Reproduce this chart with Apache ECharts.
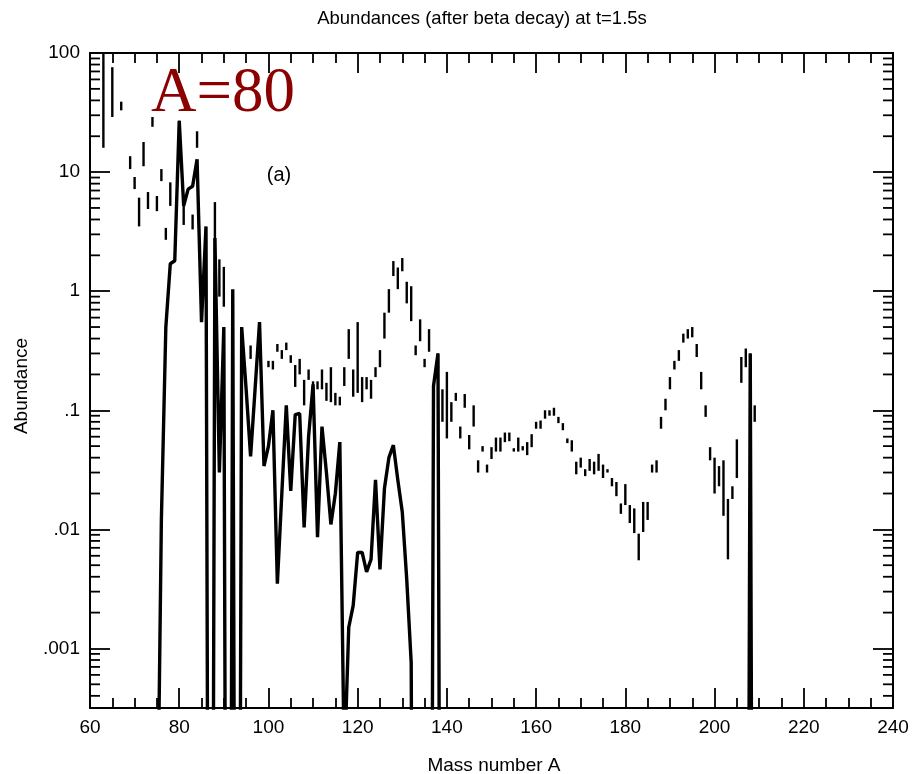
<!DOCTYPE html>
<html>
<head>
<meta charset="utf-8">
<script src="https://cdn.jsdelivr.net/npm/echarts@6/dist/echarts.min.js"></script>
<style>
html,body{margin:0;padding:0;background:#fff;}
#chart{width:912px;height:774px;}
</style>
</head>
<body>
<div id="chart"></div>
<script>
// ---------- DATA ----------
// Observed abundances: mass number, lower and upper end of each vertical bar
const obsA = [63, 65, 67, 69, 70, 71, 72, 73, 74, 75, 76, 77, 78, 80, 81, 83, 84, 88, 89, 90,
  96, 98, 100, 101, 102, 103, 104, 105, 106, 107, 108, 109, 110, 111, 112, 113, 114, 115, 116, 117,
  118, 119, 120, 121, 122, 123, 124, 125, 126, 127, 128, 129, 130, 131, 132, 133, 134, 135, 136, 138,
  139, 140, 141, 142, 143, 144, 145, 146, 147, 148, 149, 150, 151, 152, 153, 154, 155, 156, 157, 158,
  159, 160, 161, 162, 163, 164, 165, 166, 167, 168, 169, 170, 171, 172, 173, 174, 175, 176, 177, 178,
  179, 180, 181, 182, 183, 184, 185, 186, 187, 188, 189, 190, 191, 192, 193, 194, 195, 196, 197, 198,
  199, 200, 201, 202, 203, 204, 205, 206, 207, 208, 209];
const obsLow = [16, 29, 33, 10.6, 7.2, 3.5, 11.2, 4.9, 24, 4.7, 8.4, 2.7, 5.2, 20, 3.6, 3.3, 16, 2.1, 0.9, 0.74,
  0.27, 0.32, 0.23, 0.22, 0.31, 0.27, 0.32, 0.25, 0.157, 0.2, 0.11, 0.18, 0.145, 0.15, 0.15, 0.12, 0.117, 0.11, 0.11, 0.16,
  0.27, 0.13, 0.14, 0.117, 0.15, 0.125, 0.19, 0.23, 0.4, 0.66, 1.34, 1.04, 1.47, 0.79, 0.56, 0.29, 0.38, 0.23, 0.31, 0.22,
  0.08, 0.058, 0.08, 0.12, 0.058, 0.105, 0.047, 0.073, 0.03, 0.045, 0.03, 0.039, 0.045, 0.045, 0.054, 0.055, 0.045, 0.045, 0.046, 0.042,
  0.049, 0.07, 0.07, 0.085, 0.09, 0.09, 0.078, 0.068, 0.053, 0.045, 0.029, 0.033, 0.028, 0.031, 0.029, 0.031, 0.027, 0.03, 0.023, 0.019,
  0.0135, 0.016, 0.0113, 0.0093, 0.0055, 0.0095, 0.012, 0.03, 0.03, 0.07, 0.1, 0.15, 0.22, 0.26, 0.37, 0.4, 0.41, 0.28, 0.15, 0.088,
  0.038, 0.02, 0.023, 0.013, 0.0056, 0.018, 0.027, 0.17, 0.23, 0.25, 0.08];
const obsHigh = [120, 76, 39, 13.6, 9.1, 6.1, 17.9, 6.8, 29, 6.3, 10.6, 3.4, 8.2, 27, 5.6, 4.4, 22, 5.6, 1.85, 1.6,
  0.35, 0.55, 0.26, 0.26, 0.36, 0.32, 0.37, 0.29, 0.24, 0.27, 0.18, 0.22, 0.175, 0.175, 0.22, 0.17, 0.23, 0.14, 0.13, 0.23,
  0.48, 0.22, 0.55, 0.19, 0.19, 0.18, 0.23, 0.32, 0.66, 1.04, 1.79, 1.58, 1.9, 1.2, 1.1, 0.35, 0.58, 0.27, 0.48, 0.3,
  0.15, 0.21, 0.117, 0.14, 0.073, 0.137, 0.062, 0.11, 0.038, 0.05, 0.035, 0.049, 0.059, 0.059, 0.065, 0.065, 0.048, 0.059, 0.05, 0.054,
  0.063, 0.08, 0.082, 0.1, 0.1, 0.105, 0.088, 0.078, 0.058, 0.056, 0.037, 0.04, 0.032, 0.039, 0.037, 0.043, 0.035, 0.032, 0.027, 0.025,
  0.0165, 0.024, 0.016, 0.015, 0.0092, 0.017, 0.017, 0.035, 0.038, 0.088, 0.125, 0.19, 0.26, 0.32, 0.44, 0.48, 0.5, 0.36, 0.21, 0.11,
  0.049, 0.04, 0.034, 0.038, 0.018, 0.023, 0.057, 0.28, 0.33, 0.3, 0.11];

// Calculated abundances (thick curve); 0 = below the plotted range
const calcA = [75, 76, 77, 78, 79, 80, 81, 82, 83, 84, 85, 86, 87, 88, 89, 90, 91, 92, 93, 94,
  95, 96, 97, 98, 99, 100, 101, 102, 103, 104, 105, 106, 107, 108, 109, 110, 111, 112, 113, 114,
  115, 116, 117, 118, 119, 120, 121, 122, 123, 124, 125, 126, 127, 128, 129, 130, 131, 132, 133, 134,
  135, 136, 137, 138, 139, 207, 208, 209];
const calcV = [0.00001, 0.012, 0.5, 1.7, 1.8, 27, 5.2, 7.2, 7.6, 12.8, 0.55, 3.5, 0, 2.8, 0.03, 0.5, 0, 1.04, 0, 0.5,
  0.15, 0.041, 0.15, 0.55, 0.034, 0.05, 0.1, 0.0035, 0.02, 0.11, 0.021, 0.092, 0.094, 0.0104, 0.06, 0.165, 0.0086, 0.073, 0.03, 0.011,
  0.02, 0.054, 0.0001, 0.0015, 0.0023, 0.0064, 0.0064, 0.0044, 0.0056, 0.026, 0.0046, 0.022, 0.04, 0.051, 0.026, 0.014, 0.0038, 0.00076, 0, 0,
  0, 0, 0.16, 0.3, 0, 0, 0.3, 0];

// Axis tick labels
const yTickLabels = {'2': '100', '1': '10', '0': '1', '-1': '.1', '-2': '.01', '-3': '.001'};

// ---------- CHART ----------
const X_MIN = 60, X_MAX = 240;
const Y_MIN = Math.pow(10, -3.5), Y_MAX = 100;
const FLOOR = 1e-12; // stands in for zero on the log axis (falls far below the frame)

const minorVals = [];
for (let k = -4; k <= 1; k++) {
  for (let m = 2; m <= 9; m++) {
    const v = m * Math.pow(10, k);
    if (v > Y_MIN && v < Y_MAX) minorVals.push([X_MIN, v]);
  }
}

const font = 'Liberation Sans';
const chart = echarts.init(document.getElementById('chart'), null, {renderer: 'canvas'});

function xAxisCfg(pos, showLabel) {
  return {
    type: 'value', position: pos, min: X_MIN, max: X_MAX, interval: 20,
    axisLine: {show: true, onZero: false, lineStyle: {color: '#000', width: 2}},
    axisTick: {show: true, inside: true, length: 20, lineStyle: {color: '#000', width: 1.8}},
    minorTick: {show: true, splitNumber: 4, length: 10, lineStyle: {color: '#000', width: 1.8}},
    splitLine: {show: false}, minorSplitLine: {show: false},
    axisLabel: {show: showLabel, color: '#000', fontSize: 19, fontFamily: font, margin: 10}
  };
}
function yAxisCfg(pos, showLabel) {
  return {
    type: 'log', logBase: 10, position: pos, min: Y_MIN, max: Y_MAX,
    axisLine: {show: true, onZero: false, lineStyle: {color: '#000', width: 2}},
    axisTick: {show: true, inside: true, length: 20, lineStyle: {color: '#000', width: 1.8}},
    minorTick: {show: false},
    splitLine: {show: false},
    axisLabel: {
      show: showLabel, color: '#000', fontSize: 19, fontFamily: font, margin: 10,
      showMinLabel: true, showMaxLabel: true,
      formatter: function (v) {
        const e = Math.log10(v);
        const r = Math.round(e);
        if (Math.abs(e - r) > 1e-6) return '';
        return yTickLabels[String(r)] || '';
      }
    }
  };
}

const option = {
  animation: false,
  backgroundColor: '#fff',
  textStyle: {fontFamily: font},
  grid: {left: 90, right: 19, top: 53, bottom: 66},
  xAxis: [xAxisCfg('bottom', true), xAxisCfg('top', false)],
  yAxis: [yAxisCfg('left', true), yAxisCfg('right', false)],
  graphic: [
    {type: 'text', x: 482, y: 19, silent: true,
      style: {text: 'Abundances (after beta decay) at t=1.5s', fontSize: 18.5, fontFamily: font, fill: '#000', align: 'center', verticalAlign: 'middle'}},
    {type: 'text', x: 494, y: 766, silent: true,
      style: {text: 'Mass number A', fontSize: 19, fontFamily: font, fill: '#000', align: 'center', verticalAlign: 'middle'}},
    {type: 'text', x: 22, y: 386, rotation: Math.PI / 2, silent: true,
      style: {text: 'Abundance', fontSize: 19, fontFamily: font, fill: '#000', align: 'center', verticalAlign: 'middle'}},
    {type: 'text', x: 279, y: 175, silent: true,
      style: {text: '(a)', fontSize: 20, fontFamily: font, fill: '#000', align: 'center', verticalAlign: 'middle'}},
    {type: 'text', x: 151, y: 94, silent: true, z: 100,
      style: {text: 'A=80', fontSize: 63, fontFamily: 'Liberation Serif', fill: '#8B0000', align: 'left', verticalAlign: 'middle'}}
  ],
  series: [
    {
      name: 'minorTicks', type: 'custom', silent: true, clip: false,
      data: minorVals, encode: {x: 0, y: 1},
      renderItem: function (params, api) {
        const v = api.value(1);
        const pl = api.coord([X_MIN, v]);
        const pr = api.coord([X_MAX, v]);
        const st = {stroke: '#000', lineWidth: 1.8};
        return {type: 'group', children: [
          {type: 'line', shape: {x1: pl[0], y1: pl[1], x2: pl[0] + 10, y2: pl[1]}, style: st},
          {type: 'line', shape: {x1: pr[0] - 10, y1: pr[1], x2: pr[0], y2: pr[1]}, style: st}
        ]};
      }
    },
    {
      name: 'Observed', type: 'custom', silent: true, clip: true,
      data: obsA.map((a, i) => [a, obsLow[i], obsHigh[i]]),
      encode: {x: 0, y: [1, 2]},
      renderItem: function (params, api) {
        const a = api.value(0);
        const p1 = api.coord([a, api.value(1)]);
        const p2 = api.coord([a, api.value(2)]);
        return {type: 'line', shape: {x1: p1[0], y1: p1[1], x2: p2[0], y2: p2[1]},
          style: {stroke: '#000', lineWidth: 2.4}};
      }
    },
    {
      name: 'Calculated', type: 'line', clip: true, symbol: 'none', silent: true,
      data: calcA.map((a, i) => [a, calcV[i] > 0 ? calcV[i] : FLOOR]),
      lineStyle: {color: '#000', width: 3.4},
      z: 5
    }
  ]
};
chart.setOption(option);
</script>
</body>
</html>
